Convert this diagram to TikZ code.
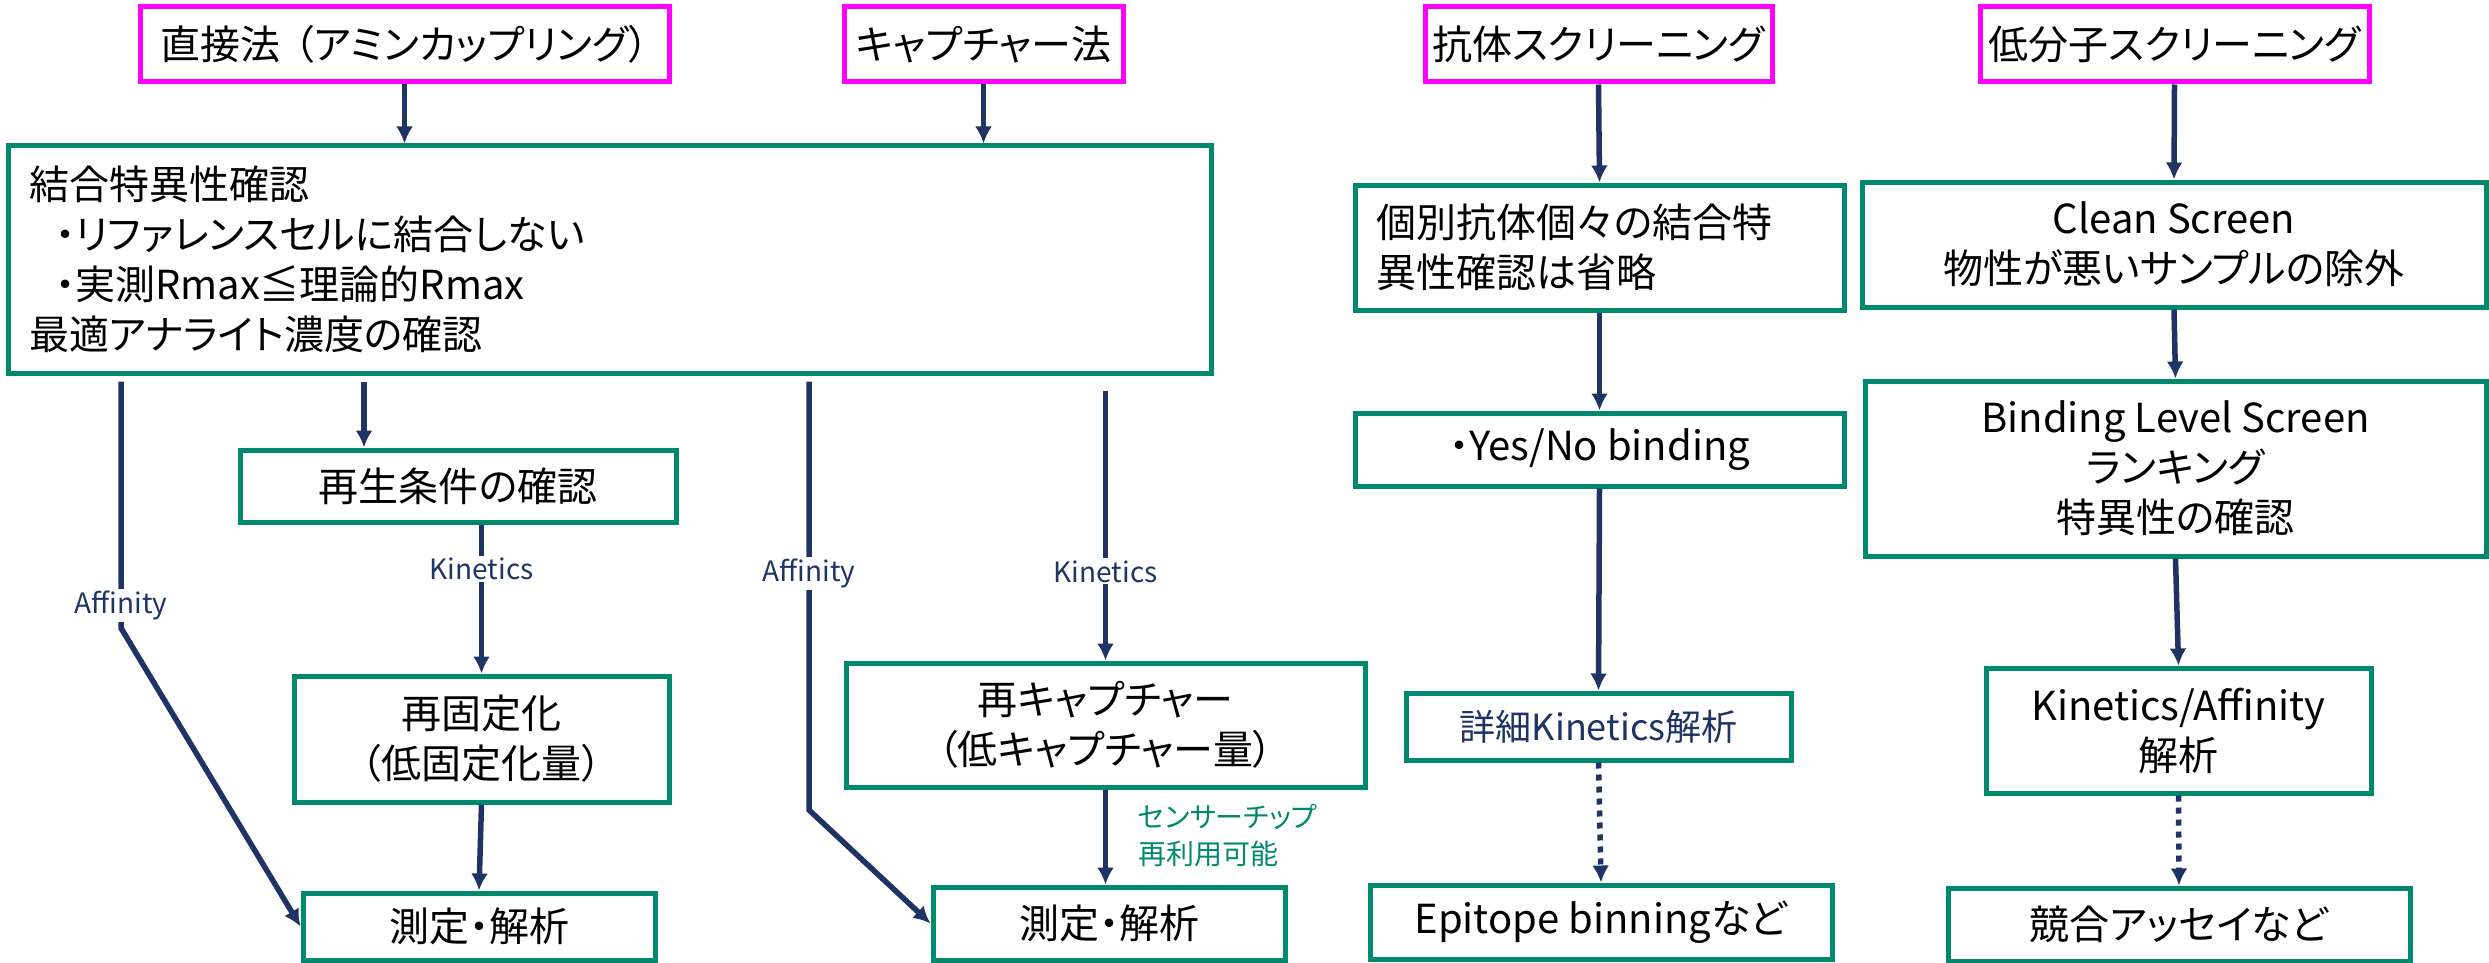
\documentclass[tikz,border=0pt]{standalone}
\usepackage{fontspec}
\setmainfont{Noto Sans CJK JP}[RawFeature=+palt]
\usetikzlibrary{arrows.meta}
\definecolor{mag}{HTML}{FF00FF}
\definecolor{grn}{HTML}{00896C}
\definecolor{nvy}{HTML}{1F3464}
\begin{document}
\begin{tikzpicture}[x=1pt,y=-1pt,
  topbox/.style={draw=mag, line width=5pt, minimum width=#1, minimum height=75pt, inner sep=0pt, font=\fontsize{40}{50}\selectfont},
  box/.style 2 args={draw=grn, line width=5pt, minimum width=#1, minimum height=#2, inner sep=0pt, align=center, font=\fontsize{40}{50}\selectfont},
  arr/.style={draw=nvy, line width=5.5pt, -{Latex[length=17pt,width=17pt]}},
  dasharr/.style={arr, dash pattern=on 6pt off 6pt},
  lab/.style={fill=white, inner sep=2pt, text=nvy, font=\fontsize{28}{34}\selectfont},
  greennote/.style={text=grn, inner sep=0pt, align=left, font=\fontsize{28}{37}\selectfont}]
\fill[white] (0,0) rectangle (2489,963);
\useasboundingbox (0,0) rectangle (2489,963);

% top boxes
\node[topbox=529pt] (t1) at (404.5,44) {直接法\hspace{14pt}（アミンカップリング）};
\node[topbox=279pt] (t2) at (983.5,44.5) {キャプチャー法};
\node[topbox=347pt] (t3) at (1598.5,44.5) {抗体スクリーニング};
\node[topbox=389pt] (t4) at (2174.5,44.5) {低分子スクリーニング};

% left part
\node[box={1203pt}{227pt}, text width=1161pt, align=left] (sp) at (609.5,259.5)
  {結合特異性確認\\
   \hspace*{26pt}・リファレンスセルに結合しない\\
   \hspace*{26pt}・実測Rmax≦理論的Rmax\\
   最適アナライト濃度の確認};
\node[box={436pt}{72pt}] (rg) at (458,486) {再生条件の確認};
\node[box={375pt}{126pt}] (ri) at (481.5,739) {再固定化\\（低固定化量）};
\node[box={352pt}{67pt}] (m1) at (479,926.5) {測定・解析};
\node[box={519pt}{124pt}] (rc) at (1105.5,725) {再キャプチャー\\（低キャプチャー量）};
\node[box={352pt}{73pt}] (m2) at (1109,923.5) {測定・解析};
\node[greennote, anchor=west] (ru) at (1138,836) {センサーチップ\\再利用可能};

% antibody column
\node[box={489pt}{125pt}, text width=447pt, align=left] (iv) at (1599.5,247.5) {個別抗体個々の結合特\\異性確認は省略};
\node[box={489pt}{73pt}] (yn) at (1599.5,449.5) {・Yes/No binding};
\node[box={385pt}{67pt}, text=nvy, font=\fontsize{36}{44}\selectfont] (dk) at (1598.5,726.5) {詳細Kinetics解析};
\node[box={462pt}{74pt}] (ep) at (1601,922) {Epitope binningなど};

% small molecule column
\node[box={624pt}{125pt}] (cs) at (2174,244.5) {Clean Screen\\物性が悪いサンプルの除外};
\node[box={621pt}{175pt}] (bl) at (2175.5,468.5) {Binding Level Screen\\ランキング\\特異性の確認};
\node[box={385pt}{125pt}] (ka) at (2178.5,730.5) {Kinetics/Affinity\\解析};
\node[box={462pt}{73pt}] (cp) at (2179,924.5) {競合アッセイなど};

% helper coordinates
\coordinate (c1) at (364,0);
\coordinate (a1b) at (121,628);
\coordinate (a2b) at (809,810);

% connectors
\draw[arr] (t1.south) -- (t1.south |- sp.north);
\draw[arr] (t2.south) -- (t2.south |- sp.north);
\draw[arr] ([yshift=-6pt]sp.south -| c1) -- (rg.north -| c1);
\draw[arr] (rg.south -| ri.north) -- node[lab,pos=0.3]{Kinetics} (ri.north);
\draw[arr] (ri.south) -- (m1.north);
\draw[arr] ([yshift=-6pt]sp.south -| a1b) -- node[lab,pos=0.91]{Affinity} (a1b) -- (m1.west);
\draw[arr] ([yshift=-6pt]sp.south -| a2b) -- node[lab,pos=0.448]{Affinity} (a2b) -- (m2.west);
\draw[arr] ([yshift=-15pt]sp.south -| rc.north) -- node[lab,pos=0.67]{Kinetics} (rc.north);
\draw[arr] (rc.south) -- (rc.south |- m2.north);

\draw[arr] (t3.south) -- (iv.north);
\draw[arr] (iv.south) -- (yn.north);
\draw[arr] (yn.south) -- (dk.north);
\draw[dasharr] (dk.south) -- (ep.north);

\draw[arr] (t4.south) -- (cs.north);
\draw[arr] (cs.south) -- (bl.north);
\draw[arr] (bl.south) -- (ka.north);
\draw[dasharr] (ka.south) -- (cp.north);
\end{tikzpicture}
\end{document}
